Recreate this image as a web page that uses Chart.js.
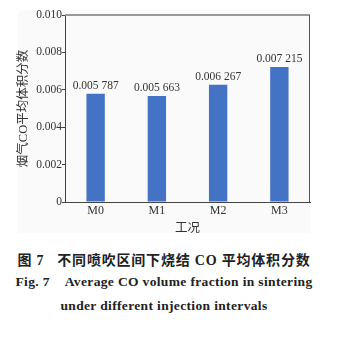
<!DOCTYPE html>
<html>
<head>
<meta charset="utf-8">
<script src="https://cdn.jsdelivr.net/npm/chart.js@4/dist/chart.umd.min.js"></script>
<style>
  body { margin: 0; background: #fff; width: 339px; height: 337px; overflow: hidden; position: relative; }
  #wrap { position: absolute; left: 0; top: 0; width: 339px; height: 240px; }
  .cap { position: absolute; left: 0; width: 328px; text-align: center; font-family: "Liberation Serif", "Noto Sans CJK SC", serif; font-weight: bold; color: #222; white-space: nowrap; }
</style>
</head>
<body>
<div id="wrap"><canvas id="chart"></canvas></div>
<div class="cap" style="top:249px;font-size:14px;letter-spacing:0.8px;">图 7&nbsp;&nbsp;&nbsp;不同喷吹区间下烧结 CO 平均体积分数</div>
<div class="cap" style="top:274px;font-size:13.5px;letter-spacing:0.35px;">Fig. 7&nbsp;&nbsp;&nbsp;&nbsp;Average CO volume fraction in sintering</div>
<div class="cap" style="top:298px;font-size:13.5px;letter-spacing:0.35px;">under different injection intervals</div>
<script>
const categories = ['M0', 'M1', 'M2', 'M3'];
const coFraction = [0.005787, 0.005663, 0.006267, 0.007215];
const yTicks = [0, 0.002, 0.004, 0.006, 0.008, 0.010];
const yTitle = '烟气CO平均体积分数';
const xTitle = '工况';

const serif = '"Liberation Serif", "Noto Sans CJK SC", serif';

// 0.005787 -> "0.005 787"
function fmtValue(v) {
  const s = v.toFixed(6);
  return s.slice(0, 5) + ' ' + s.slice(5);
}

const framePlugin = {
  id: 'frame',
  beforeDraw(chart) {
    const ctx = chart.ctx;
    ctx.save();
    ctx.fillStyle = '#fafafa';
    ctx.fillRect(18, 10, 292, 223);
    ctx.restore();
  },
  afterDatasetsDraw(chart) {
    const { ctx, chartArea } = chart;
    ctx.save();
    ctx.strokeStyle = '#999';
    ctx.lineWidth = 2;
    ctx.beginPath();
    ctx.moveTo(chartArea.left, chartArea.top);
    ctx.lineTo(chartArea.right, chartArea.top);
    ctx.stroke();
    ctx.strokeStyle = '#555';
    ctx.lineWidth = 1;
    ctx.beginPath();
    ctx.moveTo(chartArea.right - 0.5, chartArea.top);
    ctx.lineTo(chartArea.right - 0.5, chartArea.bottom);
    ctx.stroke();

    // value labels above bars
    const meta = chart.getDatasetMeta(0);
    ctx.fillStyle = '#333';
    ctx.font = '11.5px ' + serif;
    ctx.textAlign = 'center';
    ctx.textBaseline = 'bottom';
    meta.data.forEach((bar, i) => {
      ctx.fillText(fmtValue(coFraction[i]), bar.x, bar.y - 2);
    });
    ctx.restore();
  }
};

new Chart(document.getElementById('chart'), {
  type: 'bar',
  data: {
    labels: categories,
    datasets: [{
      data: coFraction,
      backgroundColor: '#4472c4',
      categoryPercentage: 1,
      barPercentage: 0.3
    }]
  },
  options: {
    responsive: true,
    maintainAspectRatio: false,
    animation: false,
    layout: { padding: { left: 0, right: 29, top: 15, bottom: 0 } },
    plugins: {
      legend: { display: false },
      tooltip: { enabled: false }
    },
    scales: {
      x: {
        grid: { display: false, drawTicks: false },
        border: { display: true, color: '#444', width: 1 },
        ticks: { color: '#333', font: { family: serif, size: 12 }, padding: 2 },
        title: { display: true, text: xTitle, color: '#333', font: { family: serif, size: 12.5 }, padding: { top: 0, bottom: 4 } },
        afterFit(scale) { scale.height = 38; }
      },
      y: {
        min: 0,
        max: 0.010,
        afterBuildTicks(scale) { scale.ticks = yTicks.map(v => ({ value: v })); },
        grid: { display: true, drawOnChartArea: false, drawTicks: true, tickLength: 3, color: '#444' },
        border: { display: true, color: '#444', width: 1 },
        ticks: {
          color: '#333',
          font: { family: serif, size: 11.5 },
          padding: 0,
          callback: v => v === 0 ? '0' : v.toFixed(3)
        },
        title: { display: true, text: yTitle, color: '#333', font: { family: serif, size: 12.5 }, padding: { top: 16, bottom: 0 } },
        afterFit(scale) { scale.width = 65; }
      }
    }
  },
  plugins: [framePlugin]
});
</script>
</body>
</html>
